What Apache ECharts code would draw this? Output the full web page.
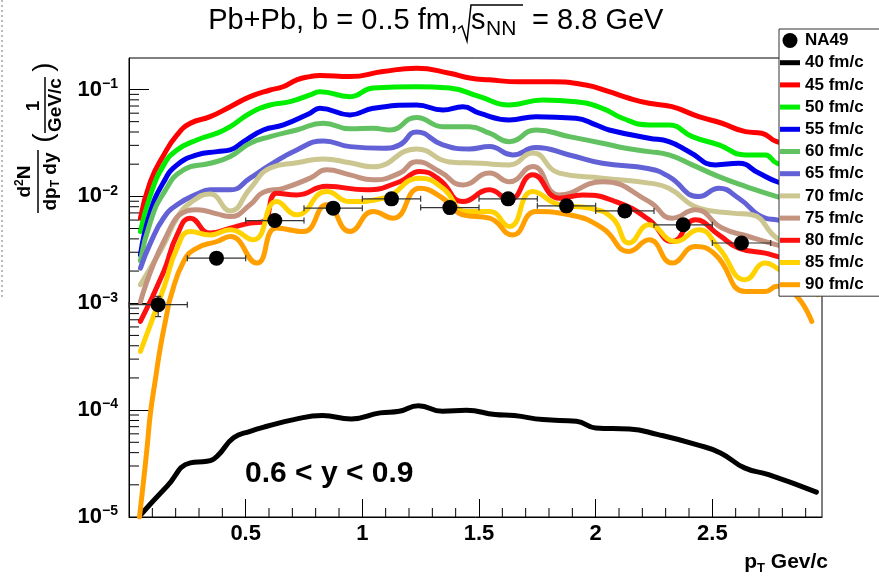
<!DOCTYPE html>
<html><head><meta charset="utf-8">
<script src="https://cdn.jsdelivr.net/npm/echarts@6/dist/echarts.min.js"></script>
<style>html,body{margin:0;padding:0;background:#fff}#c{width:879px;height:581px}</style>
</head><body><div id="c"></div>
<script>
// ---------- data (pT in GeV/c, yield in 1/(GeV/c)) ----------
const curveNames = ['40 fm/c','45 fm/c','50 fm/c','55 fm/c','60 fm/c','65 fm/c','70 fm/c','75 fm/c','80 fm/c','85 fm/c','90 fm/c'];
const c40 = [[0.05,1.05e-5],[0.163,1.94e-5],[0.263,3.21e-5],[0.334,3.32e-5],[0.377,3.7e-5],[0.448,5.5e-5],[0.519,6.34e-5],[0.591,7.06e-5],[0.706,8.15e-5],[0.829,8.89e-5],[0.952,8.28e-5],[1.076,9.42e-5],[1.158,9.75e-5],[1.24,1.1e-4],[1.343,9.75e-5],[1.446,9.95e-5],[1.569,9.08e-5],[1.651,8.89e-5],[1.774,8.15e-5],[1.918,7.86e-5],[2.0,6.82e-5],[2.144,6.67e-5],[2.268,5.9e-5],[2.432,4.76e-5],[2.535,3.98e-5],[2.638,2.88e-5],[2.741,2.49e-5],[2.946,1.71e-5]];
const c45 = [[0.049,0.00625],[0.092,0.0138],[0.149,0.0244],[0.206,0.0376],[0.263,0.0483],[0.348,0.0557],[0.434,0.069],[0.519,0.0857],[0.605,0.0989],[0.66,0.106],[0.719,0.123],[0.776,0.132],[0.818,0.135],[0.947,0.132],[1.088,0.147],[1.232,0.158],[1.374,0.142],[1.46,0.128],[1.545,0.123],[1.673,0.118],[1.814,0.118],[1.958,0.11],[2.058,0.0953],[2.143,0.0828],[2.229,0.0743],[2.327,0.069],[2.442,0.0557],[2.541,0.0483],[2.642,0.0403],[2.712,0.039],[2.776,0.0325],[2.95,0.027]];
const c50 = [[0.049,0.00469],[0.092,0.0103],[0.149,0.0197],[0.206,0.0272],[0.291,0.0337],[0.377,0.039],[0.434,0.0449],[0.519,0.06],[0.605,0.0716],[0.69,0.0769],[0.776,0.0889],[0.818,0.0953],[0.947,0.0857],[1.046,0.103],[1.232,0.106],[1.374,0.103],[1.503,0.0857],[1.63,0.0716],[1.773,0.0798],[1.915,0.0769],[2.029,0.0667],[2.115,0.0538],[2.229,0.0466],[2.314,0.0466],[2.414,0.0362],[2.528,0.0303],[2.642,0.0244],[2.727,0.0244],[2.777,0.0204],[2.95,0.016]];
const c55 = [[0.049,0.00284],[0.092,0.00721],[0.149,0.0137],[0.206,0.0197],[0.291,0.0244],[0.377,0.0262],[0.434,0.0272],[0.491,0.0325],[0.576,0.0418],[0.662,0.0466],[0.776,0.06],[0.818,0.0667],[0.947,0.0578],[1.046,0.0667],[1.232,0.0716],[1.345,0.0643],[1.431,0.069],[1.502,0.06],[1.63,0.0519],[1.744,0.0557],[1.915,0.0538],[2.001,0.0466],[2.058,0.0418],[2.229,0.035],[2.314,0.0325],[2.4,0.0262],[2.514,0.0197],[2.613,0.0204],[2.699,0.0165],[2.777,0.0137],[2.95,0.0105]];
const c60 = [[0.049,0.0025],[0.092,0.0058],[0.149,0.0108],[0.234,0.0177],[0.348,0.0204],[0.434,0.0236],[0.519,0.0314],[0.605,0.0362],[0.719,0.0418],[0.833,0.0483],[0.947,0.0428],[1.046,0.0434],[1.118,0.0418],[1.232,0.0547],[1.345,0.0449],[1.459,0.0447],[1.545,0.039],[1.63,0.0325],[1.744,0.0418],[1.887,0.0362],[2.029,0.0314],[2.129,0.0282],[2.229,0.0262],[2.314,0.0244],[2.414,0.0197],[2.528,0.0153],[2.642,0.0124],[2.777,0.00996],[2.95,0.008]];
const c65 = [[0.049,0.00213],[0.092,0.00367],[0.149,0.0063],[0.206,0.00834],[0.291,0.0105],[0.348,0.0115],[0.434,0.0115],[0.519,0.0148],[0.605,0.0197],[0.719,0.0272],[0.833,0.033],[0.947,0.0292],[1.089,0.0282],[1.16,0.0303],[1.232,0.0401],[1.345,0.0303],[1.459,0.0278],[1.545,0.0292],[1.644,0.0244],[1.744,0.0286],[1.887,0.0244],[2.029,0.0204],[2.229,0.0181],[2.314,0.0153],[2.442,0.00996],[2.528,0.0119],[2.613,0.0096],[2.727,0.00625],[2.777,0.00603],[2.95,0.005]];
const c70 = [[0.049,0.00149],[0.092,0.00215],[0.149,0.00352],[0.206,0.0063],[0.263,0.00869],[0.348,0.0105],[0.434,0.00731],[0.519,0.0118],[0.605,0.0184],[0.719,0.0206],[0.833,0.0224],[0.947,0.0206],[1.046,0.0189],[1.232,0.0278],[1.374,0.021],[1.503,0.0204],[1.63,0.0197],[1.73,0.0254],[1.844,0.0165],[2.029,0.0148],[2.229,0.0133],[2.314,0.0119],[2.442,0.00776],[2.585,0.00697],[2.67,0.00672],[2.777,0.00406],[2.95,0.0025]];
const c75 = [[0.049,0.00103],[0.149,0.00378],[0.249,0.00731],[0.291,0.00748],[0.377,0.00686],[0.434,0.00647],[0.519,0.00834],[0.576,0.0109],[0.662,0.0119],[0.776,0.0148],[0.847,0.0177],[0.947,0.0159],[1.046,0.0143],[1.16,0.0165],[1.232,0.0211],[1.331,0.0171],[1.431,0.0128],[1.545,0.0165],[1.63,0.0137],[1.73,0.019],[1.844,0.0103],[2.029,0.0137],[2.229,0.00893],[2.328,0.00625],[2.428,0.00748],[2.542,0.00505],[2.656,0.00421],[2.777,0.00352],[2.95,0.0028]];
const c80 = [[0.049,0.000676],[0.149,0.00198],[0.206,0.00436],[0.263,0.00625],[0.348,0.00453],[0.434,0.00505],[0.519,0.00562],[0.576,0.00581],[0.633,0.0107],[0.719,0.0103],[0.847,0.0124],[1.018,0.0115],[1.16,0.0137],[1.246,0.0171],[1.331,0.0143],[1.431,0.00893],[1.545,0.0115],[1.63,0.00927],[1.73,0.0159],[1.844,0.0096],[1.944,0.0103],[2.086,0.00893],[2.229,0.00603],[2.328,0.00378],[2.428,0.00603],[2.528,0.00436],[2.613,0.00328],[2.727,0.00294],[2.777,0.00274],[2.95,0.0022]];
const c85 = [[0.049,0.000355],[0.149,0.00139],[0.206,0.00328],[0.263,0.00469],[0.348,0.00436],[0.434,0.00486],[0.533,0.00392],[0.633,0.00893],[0.719,0.00672],[0.847,0.0111],[0.947,0.00893],[1.089,0.0096],[1.246,0.0148],[1.345,0.0119],[1.445,0.00721],[1.545,0.00721],[1.63,0.00522],[1.73,0.0111],[1.844,0.00834],[1.972,0.00776],[2.072,0.00625],[2.143,0.00366],[2.229,0.00542],[2.343,0.00378],[2.442,0.00486],[2.528,0.00328],[2.642,0.00166],[2.727,0.00238],[2.777,0.00213],[2.95,0.0012]];
const c90 = [[0.045,1.0e-5],[0.063,2.24e-5],[0.078,4.59e-5],[0.092,9.42e-5],[0.113,0.000193],[0.135,0.000394],[0.163,0.000809],[0.177,0.00112],[0.234,0.00246],[0.291,0.00328],[0.377,0.00378],[0.434,0.00421],[0.548,0.00238],[0.633,0.00505],[0.747,0.00469],[0.847,0.00834],[0.947,0.00469],[1.046,0.00721],[1.132,0.00625],[1.246,0.0119],[1.345,0.0096],[1.431,0.00672],[1.545,0.00625],[1.644,0.00436],[1.744,0.00721],[1.887,0.00672],[2.029,0.00505],[2.143,0.00305],[2.229,0.00392],[2.328,0.00238],[2.428,0.0034],[2.514,0.00284],[2.642,0.00129],[2.727,0.00129],[2.777,0.00144],[2.856,0.0012],[2.926,0.000676]];

const na49PT    = [0.125,0.375,0.625,0.875,1.125,1.375,1.625,1.875,2.125,2.375,2.625];
const na49Y     = [0.00097,0.00264,0.00594,0.00776,0.00948,0.00785,0.00948,0.00815,0.00731,0.00542,0.00366];
const na49XErr  = [0.125,0.125,0.125,0.125,0.125,0.125,0.125,0.125,0.125,0.125,0.125];
const na49YLow  = [0.00075,0.0025,0.0057,0.0075,0.0092,0.0076,0.0092,0.0079,0.0071,0.0052,0.0035];
const na49YHigh = [0.00116,0.0028,0.0062,0.0080,0.0098,0.0081,0.0098,0.0084,0.0075,0.0056,0.0038];

const xTickValues = [0.5, 1, 1.5, 2, 2.5];
const yTickValues = [1e-5, 1e-4, 1e-3, 1e-2, 1e-1];
const xMinorTicks = [0.1,0.2,0.3,0.4,0.6,0.7,0.8,0.9,1.1,1.2,1.3,1.4,1.6,1.7,1.8,1.9,2.1,2.2,2.3,2.4,2.6,2.7,2.8,2.9];
const yDecades = [1e-5, 1e-4, 1e-3, 1e-2, 1e-1];
const yMinorMultipliers = [2,3,4,5,6,7,8,9];

// ---------- styles ----------
const FONT = '"Liberation Sans", Arial, Helvetica, sans-serif';
const curveColors = ['#000000','#ff0000','#00ee00','#0000ee','#62c262','#6262d6','#ccc690','#c4937f','#ff1010','#ffd200','#ffa000'];
const curves = [c40,c45,c50,c55,c60,c65,c70,c75,c80,c85,c90];
const X_MIN = 0, X_MAX = 2.97, Y_MIN = 1e-5, Y_MAX = 0.197;
const LINE_ICON = 'path://M0,0L20,0L20,5L0,5Z';

const yMinor = [];
yDecades.forEach(d => yMinorMultipliers.forEach(k => { const v = k * d; if (v < Y_MAX) yMinor.push([X_MIN, v, 0]); }));
const xMinor = xMinorTicks.map(x => [x, Y_MIN, 1]);

const chart = echarts.init(document.getElementById('c'), null, {renderer: 'canvas'});

const lineSeries = curves.map((d, i) => ({
  type: 'line', name: curveNames[i], data: d,
  smooth: 0.5, symbol: 'none', showSymbol: false,
  lineStyle: {width: 5, color: curveColors[i], join: 'round', cap: 'round'}, itemStyle: {color: curveColors[i]},
  z: 2
}));

const errStyle = {stroke: '#333', lineWidth: 1.2};
const option = {
  animation: false,
  backgroundColor: '#fff',
  grid: {left: 129, right: 57, top: 58, bottom: 64, show: true, borderColor: '#000', borderWidth: 1},
  xAxis: {
    type: 'value', min: X_MIN, max: X_MAX,
    axisLine: {show: true, lineStyle: {color: '#000', width: 1}},
    axisTick: {show: true, inside: true, length: 18, customValues: xTickValues, lineStyle: {color: '#000', width: 1}},
    axisLabel: {customValues: xTickValues, formatter: v => String(v), margin: 6,
      fontFamily: FONT, fontWeight: 'bold', fontSize: 22, color: '#000'},
    splitLine: {show: false}
  },
  yAxis: {
    type: 'log', min: Y_MIN, max: Y_MAX, logBase: 10,
    axisLine: {show: true, lineStyle: {color: '#000', width: 1}},
    axisTick: {show: true, inside: true, length: 20, customValues: yTickValues, lineStyle: {color: '#000', width: 1}},
    axisLabel: {customValues: yTickValues, margin: 11,
      formatter: v => { const e = Math.round(Math.log10(v)); return '{b|10}{s|\u2212' + (-e) + '}'; },
      rich: {
        b: {fontFamily: FONT, fontWeight: 'bold', fontSize: 22, color: '#000'},
        s: {fontFamily: FONT, fontWeight: 'bold', fontSize: 14, color: '#000', padding: [0, 0, 11, 0]}
      }},
    splitLine: {show: false}
  },
  legend: {
    orient: 'vertical', left: 779, top: 29,
    itemWidth: 20, itemHeight: 15, itemGap: 5.2,
    padding: [3, 80, 3, 1],
    backgroundColor: '#fff', borderColor: '#333', borderWidth: 1,
    textStyle: {fontFamily: FONT, fontWeight: 'bold', fontSize: 17, color: '#000', lineHeight: 17},
    data: [{name: 'NA49', icon: 'circle', itemStyle: {color: '#000', opacity: 1}}]
      .concat(curveNames.map((n, i) => ({name: n, icon: LINE_ICON, itemStyle: {color: curveColors[i]}}))),
    selectedMode: false
  },
  series: lineSeries.concat([
    {
      type: 'custom', name: 'minorTicks', silent: true, z: 5,
      data: yMinor.concat(xMinor), encode: {x: 0, y: 1},
      renderItem: (params, api) => {
        const p = api.coord([api.value(0), api.value(1)]);
        const kind = api.value(2);
        const shape = kind === 0 ? {x1: p[0], y1: p[1], x2: p[0] + 10, y2: p[1]}
                                 : {x1: p[0], y1: p[1], x2: p[0], y2: p[1] - 9};
        return {type: 'line', shape: shape, style: {stroke: '#000', lineWidth: 1}};
      }
    },
    {
      type: 'custom', name: 'NA49 errors', silent: true, z: 8,
      data: na49PT.map((x, i) => [x, na49Y[i], x - na49XErr[i], x + na49XErr[i], na49YLow[i], na49YHigh[i]]),
      encode: {x: 0, y: 1},
      renderItem: (params, api) => {
        const x = api.value(0), y = api.value(1);
        const pl = api.coord([api.value(2), y]), pr = api.coord([api.value(3), y]);
        const pb = api.coord([x, api.value(4)]), pt = api.coord([x, api.value(5)]);
        return {type: 'group', children: [
          {type: 'line', shape: {x1: pl[0], y1: pl[1], x2: pr[0], y2: pr[1]}, style: errStyle},
          {type: 'line', shape: {x1: pl[0], y1: pl[1] - 3, x2: pl[0], y2: pl[1] + 3}, style: errStyle},
          {type: 'line', shape: {x1: pr[0], y1: pr[1] - 3, x2: pr[0], y2: pr[1] + 3}, style: errStyle},
          {type: 'line', shape: {x1: pb[0], y1: pb[1], x2: pt[0], y2: pt[1]}, style: errStyle},
          {type: 'line', shape: {x1: pb[0] - 3, y1: pb[1], x2: pb[0] + 3, y2: pb[1]}, style: errStyle},
          {type: 'line', shape: {x1: pt[0] - 3, y1: pt[1], x2: pt[0] + 3, y2: pt[1]}, style: errStyle}
        ]};
      }
    },
    {
      type: 'scatter', name: 'NA49', z: 9,
      data: na49PT.map((x, i) => [x, na49Y[i]]),
      symbol: 'circle', symbolSize: 15, itemStyle: {color: '#000', opacity: 1}
    }
  ]),
  graphic: [
    // title
    {type: 'text', x: 458, y: 21, style: {text: 'Pb+Pb, b = 0..5 fm,', fill: '#000', font: '29px ' + FONT, align: 'right', verticalAlign: 'middle'}},
    {type: 'polyline', shape: {points: [[458, 29], [462, 26], [467, 41], [471, 5], [523, 5]]}, style: {stroke: '#000', lineWidth: 1.5, fill: null}},
    {type: 'text', x: 471, y: 21, style: {text: 's', fill: '#000', font: '29px ' + FONT, align: 'left', verticalAlign: 'middle'}},
    {type: 'text', x: 486, y: 29, style: {text: 'NN', fill: '#000', font: '21px ' + FONT, align: 'left', verticalAlign: 'middle'}},
    {type: 'text', x: 524, y: 21, style: {text: ' = 8.8 GeV', fill: '#000', font: '29px ' + FONT, align: 'left', verticalAlign: 'middle'}},
    // rapidity window
    {type: 'text', x: 245, y: 474, style: {text: '0.6 < y < 0.9', fill: '#000', font: 'bold 30px ' + FONT, align: 'left', verticalAlign: 'middle'}},
    // x axis title
    {type: 'text', x: 828, y: 562, style: {text: '{a|p}{t|T}{a| Gev/c}', align: 'right', verticalAlign: 'middle',
      rich: {a: {fontFamily: FONT, fontWeight: 'bold', fontSize: 21, fill: '#000', color: '#000'},
             t: {fontFamily: FONT, fontWeight: 'bold', fontSize: 13, fill: '#000', color: '#000', padding: [12, 0, 0, 0]}}}},
    // y axis title (rotated)
    {type: 'group', x: 38, y: 213, rotation: Math.PI / 2, children: [
      {type: 'line', shape: {x1: 0, y1: 0, x2: 63, y2: 0}, style: {stroke: '#000', lineWidth: 1.5}},
      {type: 'text', x: 31.5, y: -3, style: {text: '{a|d}{s|2}{a|N}', align: 'center', verticalAlign: 'bottom',
        rich: {a: {fontFamily: FONT, fontWeight: 'bold', fontSize: 19, color: '#000'},
               s: {fontFamily: FONT, fontWeight: 'bold', fontSize: 12, color: '#000', padding: [0, 0, 9, 0]}}}},
      {type: 'text', x: 31.5, y: 2, style: {text: '{a|dp}{t|T}{a| dy}', align: 'center', verticalAlign: 'top',
        rich: {a: {fontFamily: FONT, fontWeight: 'bold', fontSize: 19, color: '#000'},
               t: {fontFamily: FONT, fontWeight: 'bold', fontSize: 12, color: '#000', padding: [10, 0, 0, 0]}}}},
      {type: 'text', x: 75, y: 6, style: {text: '(', fill: '#000', font: '28px ' + FONT, align: 'center', verticalAlign: 'middle'}},
      {type: 'text', x: 107, y: 5, style: {text: '1', fill: '#000', font: 'bold 19px ' + FONT, align: 'center', verticalAlign: 'bottom'}},
      {type: 'line', shape: {x1: 80, y1: 7, x2: 136, y2: 7}, style: {stroke: '#000', lineWidth: 1.5}},
      {type: 'text', x: 108, y: 8, style: {text: 'GeV/c', fill: '#000', font: 'bold 19px ' + FONT, align: 'center', verticalAlign: 'top'}},
      {type: 'text', x: 146, y: 6, style: {text: ')', fill: '#000', font: '28px ' + FONT, align: 'center', verticalAlign: 'middle'}}
    ]},
    // dotted edge artifact
    {type: 'line', shape: {x1: 2, y1: 0, x2: 2, y2: 300}, style: {stroke: '#777', lineWidth: 1, lineDash: [2, 3]}}
  ]
};
chart.setOption(option);
</script>
</body></html>
